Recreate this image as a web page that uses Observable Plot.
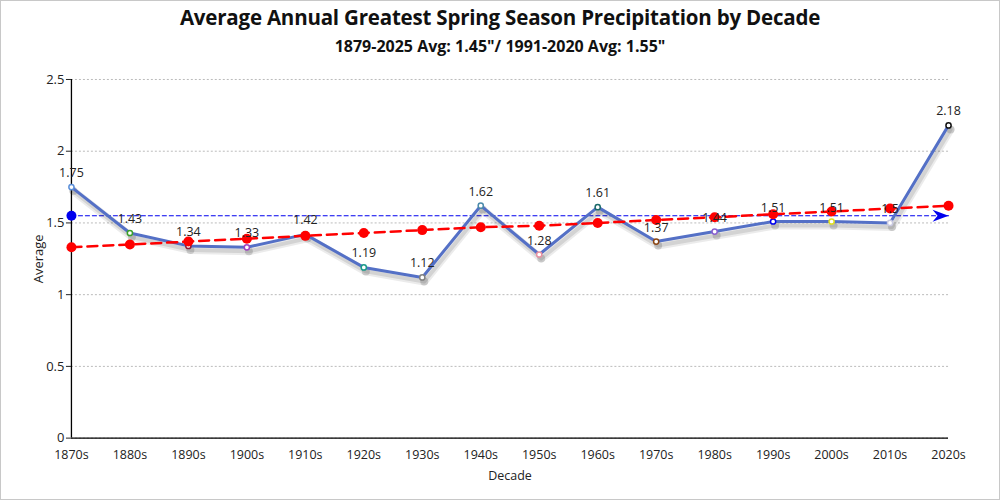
<!DOCTYPE html>
<html>
<head>
<meta charset="utf-8">
<script src="https://cdn.jsdelivr.net/npm/d3@7"></script>
<script src="https://cdn.jsdelivr.net/npm/@observablehq/plot@0.6"></script>
<style>
  html, body { margin: 0; padding: 0; background: #fff; }
  #wrap { width: 1000px; height: 500px; box-sizing: border-box; border: 1px solid #c8c8c8; position: relative; overflow: hidden; font-family: "Open Sans", "Noto Sans", sans-serif; }
  #title { position: absolute; top: 2px; left: 0; width: 100%; text-align: center; font-weight: 700; font-size: 20.5px; color: #111; letter-spacing: -0.2px; }
  #subtitle { position: absolute; top: 34px; left: 0; width: 100%; text-align: center; font-weight: 700; font-size: 16px; color: #111; }
  #chart { position: absolute; top: 60px; left: -1px; }
</style>
</head>
<body>
<div id="wrap">
  <div id="title">Average Annual Greatest Spring Season Precipitation by Decade</div>
  <div id="subtitle">1879-2025 Avg: 1.45"/ 1991-2020 Avg: 1.55"</div>
  <div id="chart"></div>
</div>
<script>
const decades = ["1870s","1880s","1890s","1900s","1910s","1920s","1930s","1940s","1950s","1960s","1970s","1980s","1990s","2000s","2010s","2020s"];
const averages = [1.75,1.43,1.34,1.33,1.42,1.19,1.12,1.62,1.28,1.61,1.37,1.44,1.51,1.51,1.5,2.18];
const labels = ["1.75","1.43","1.34","1.33","1.42","1.19","1.12","1.62","1.28","1.61","1.37","1.44","1.51","1.51","1.5","2.18"];
const trend = [1.33,1.35,1.37,1.39,1.41,1.43,1.45,1.47,1.48,1.50,1.52,1.54,1.56,1.58,1.60,1.62];
const pointColors = ["#5b8fd9","#3ba02a","#8b1a3a","#a040c0","#e07020","#1a9a8a","#808080","#4a8aaa","#e890a0","#1a6a6a","#8b4513","#8a60d0","#0000ee","#e0e020","#c8c8e0","#111111"];
const normal = 1.55;
const yTicks = [0,0.5,1,1.5,2,2.5];

const rows = decades.map((d,i) => ({decade: d, avg: averages[i], label: labels[i], trend: trend[i], color: pointColors[i]}));
const normalRows = [{decade: decades[0], v: normal}, {decade: decades[decades.length-1], v: normal}];

const arrowSymbol = {
  draw(ctx) {
    ctx.moveTo(0, 0);
    ctx.lineTo(-16, -6);
    ctx.lineTo(-11, 0);
    ctx.lineTo(-16, 6);
    ctx.closePath();
  }
};

const plot = Plot.plot({
  width: 1000,
  height: 440,
  marginTop: 18,
  marginBottom: 63,
  marginLeft: 71,
  marginRight: 51,
  style: {fontFamily: "'Open Sans', 'Noto Sans', sans-serif", fontSize: "12px", color: "#222"},
  x: {type: "point", domain: decades, padding: 0, round: false, label: null},
  y: {domain: [0, 2.5], label: null},
  marks: [
    Plot.gridY(yTicks, {stroke: "#bbb", strokeOpacity: 1, strokeDasharray: "2,2"}),
    Plot.axisY(yTicks, {tickSize: 5, tickPadding: 2, fontSize: 13, label: "Average", labelAnchor: "center", labelArrow: "none", labelOffset: 38, tickFormat: d => String(d)}),
    Plot.axisX({tickSize: 0, tickPadding: 12, fontSize: 12.5, label: "Decade", labelAnchor: "center", labelArrow: "none", labelOffset: 42}),
    Plot.ruleX([decades[0]], {y1: 0, y2: 2.5, stroke: "#000", strokeWidth: 1.3}),
    Plot.ruleY([0], {stroke: "#000", strokeWidth: 1.3}),
    Plot.line(normalRows, {x: "decade", y: "v", stroke: "#0000ee", strokeWidth: 1.2, strokeDasharray: "4,3"}),
    Plot.dot([normalRows[0]], {x: "decade", y: "v", r: 5, fill: "#0000ee", stroke: "none"}),
    Plot.dot([normalRows[1]], {x: "decade", y: "v", symbol: arrowSymbol, fill: "#0000ee", stroke: "none"}),
    Plot.line(rows, {x: "decade", y: "avg", stroke: "#000", strokeOpacity: 0.08, strokeWidth: 8, dx: 2, dy: 4}),
    Plot.line(rows, {x: "decade", y: "avg", stroke: "#000", strokeOpacity: 0.1, strokeWidth: 4, dx: 2, dy: 4}),
    Plot.dot(rows, {x: "decade", y: "avg", r: 4, fill: "#000", fillOpacity: 0.15, dx: 2, dy: 4}),
    Plot.line(rows, {x: "decade", y: "avg", stroke: "#5470c6", strokeWidth: 3}),
    Plot.dot(rows, {x: "decade", y: "avg", r: 2.6, fill: "#fff", stroke: "color", strokeWidth: 1.5}),
    Plot.line(rows, {x: "decade", y: "trend", stroke: "#ff0000", strokeWidth: 2.5, strokeDasharray: "10,6"}),
    Plot.dot(rows, {x: "decade", y: "trend", r: 5, fill: "#ff0000", stroke: "none"}),
    Plot.text(rows, {x: "decade", y: "avg", text: "label", dy: -14, fontSize: 12.5, fill: "#222"})
  ]
});
document.getElementById("chart").appendChild(plot);
</script>
</body>
</html>
